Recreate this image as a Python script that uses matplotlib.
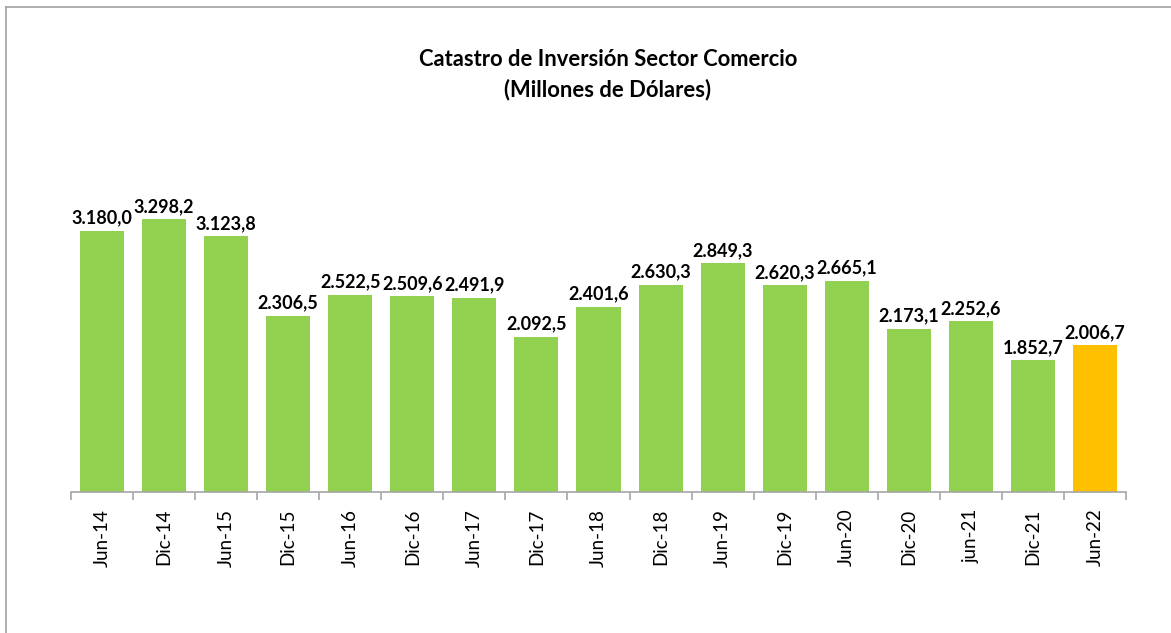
import matplotlib
matplotlib.use("Agg")
import matplotlib.pyplot as plt
from matplotlib.lines import Line2D

categories = ["Jun-14", "Dic-14", "Jun-15", "Dic-15", "Jun-16", "Dic-16", "Jun-17", "Dic-17",
              "Jun-18", "Dic-18", "Jun-19", "Dic-19", "Jun-20", "Dic-20", "jun-21", "Dic-21", "Jun-22"]
values = [3180.0, 3298.2, 3123.8, 2306.5, 2522.5, 2509.6, 2491.9, 2092.5,
          2401.6, 2630.3, 2849.3, 2620.3, 2665.1, 2173.1, 2252.6, 1852.7, 2006.7]
labels = ["3.180,0", "3.298,2", "3.123,8", "2.306,5", "2.522,5", "2.509,6", "2.491,9", "2.092,5",
          "2.401,6", "2.630,3", "2.849,3", "2.620,3", "2.665,1", "2.173,1", "2.252,6", "1.852,7", "2.006,7"]

plt.rcParams['font.family'] = ['Lato', 'DejaVu Sans']

W, H = 1171, 633
fig = plt.figure(figsize=(W / 100, H / 100), dpi=100)
ymin, ymax = 500, 3500
ax = fig.add_axes([71 / W, (H - 492) / H, (1126 - 71) / W, 292.2 / H])

colors = ["#92D050"] * (len(values) - 1) + ["#FFC000"]
x = list(range(len(values)))
ax.bar(x, [v - ymin for v in values], bottom=ymin, width=0.71, color=colors, zorder=2)
for xi, v, lab in zip(x, values, labels):
    ax.text(xi, v + 45, lab, ha='center', va='bottom', fontsize=13, fontweight='bold')

ax.set_xlim(-0.5, len(values) - 0.5)
ax.set_ylim(ymin, ymax)
ax.set_yticks([])
for s in ['top', 'right', 'left']:
    ax.spines[s].set_visible(False)
ax.spines['bottom'].set_color('#A6A6A6')
ax.spines['bottom'].set_linewidth(1.2)
ax.set_xticks(x)
ax.set_xticklabels(categories, rotation=90, fontsize=13.5)
ax.tick_params(axis='x', which='major', length=0, pad=12)
ax.set_xticks([i - 0.5 for i in range(len(values) + 1)], minor=True)
ax.tick_params(axis='x', which='minor', length=6, color='#A6A6A6', width=1.2)

fig.text(608 / W, 1 - 60 / H, "Catastro de Inversión Sector Comercio", ha='center', va='center',
         fontsize=15.8, fontweight='bold')
fig.text(608 / W, 1 - 90 / H, "(Millones de Dólares)", ha='center', va='center',
         fontsize=15.8, fontweight='bold')

fig.add_artist(Line2D([6 / W, 6 / W], [0, 1 - 7 / H], color='#A0A0A0', lw=1.2, transform=fig.transFigure))
fig.add_artist(Line2D([6 / W, 1], [1 - 7 / H, 1 - 7 / H], color='#A0A0A0', lw=1.2, transform=fig.transFigure))

fig.savefig("out.png", dpi=100, facecolor='white')
